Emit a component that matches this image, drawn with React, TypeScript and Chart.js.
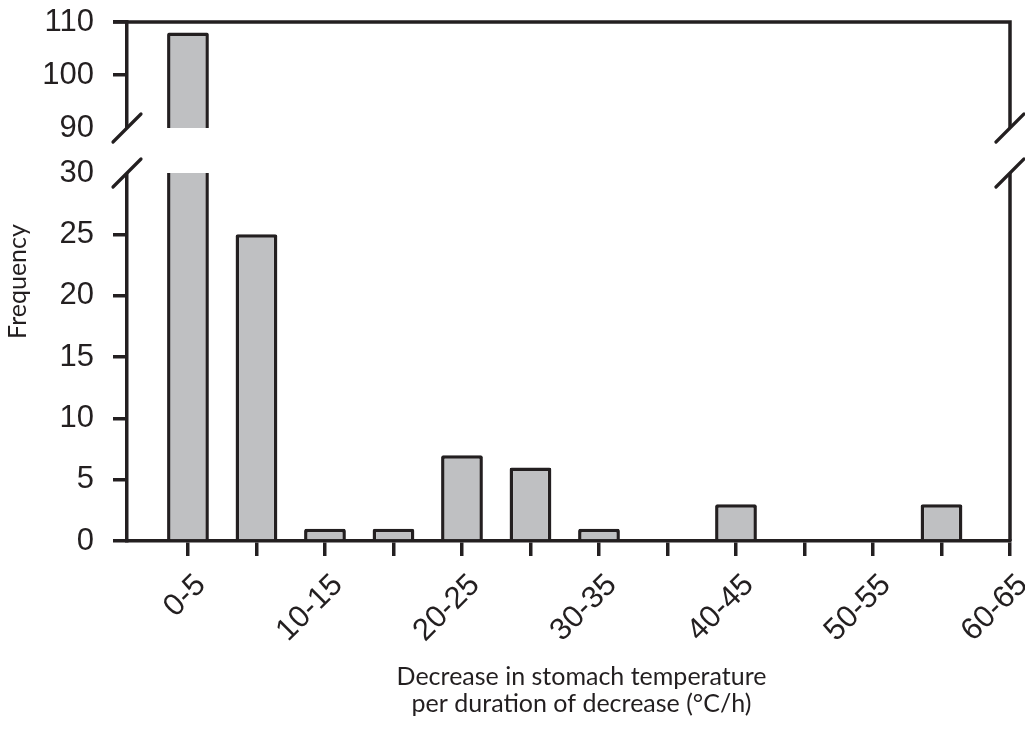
import React, { useEffect, useRef } from 'react';
import { Chart, registerables, LinearScale } from 'chart.js';

const categories = ['0-5', '5-10', '10-15', '15-20', '20-25', '25-30', '30-35', '35-40', '40-45', '45-50', '50-55', '55-60', '60-65'];
const frequency = [108, 25, 1, 1, 7, 6, 1, 0, 3, 0, 0, 3, 0];
const yTickValues = [0, 5, 10, 15, 20, 25, 30, 90, 100, 110];
const lowerRange = [0, 30];
const upperRange = [90, 110];
const xTitleLines = ['Decrease in stomach temperature', 'per duration of decrease (°C/h)'];
const yTitle = 'Frequency';

// fraction of the axis height used by the lower segment, and where the upper one starts
const LOWER_FRAC = 368 / 519;
const UPPER_START = 413 / 519;

const INK = '#231f20';
const BAR_FILL = '#bfc0c2';
const TITLE_FONT = 'Lato, "Open Sans", sans-serif';
const TICK_FONT = '"Liberation Sans", Arial, sans-serif';

class BrokenLinearScale extends LinearScale {
  static id = 'brokenLinear';
  static defaults = LinearScale.defaults;

  valueToDecimal(v: number) {
    const [l0, l1] = lowerRange;
    const [u0, u1] = upperRange;
    if (v <= l1) return ((v - l0) / (l1 - l0)) * LOWER_FRAC;
    if (v >= u0) return UPPER_START + ((v - u0) / (u1 - u0)) * (1 - UPPER_START);
    return LOWER_FRAC + ((v - l1) / (u0 - l1)) * (UPPER_START - LOWER_FRAC);
  }

  getPixelForValue(value: any) {
    if (value === null || value === undefined || isNaN(value)) return NaN;
    return (this as any).getPixelForDecimal(this.valueToDecimal(+value));
  }

  getValueForPixel(pixel: number) {
    const d = (this as any).getDecimalForPixel(pixel);
    const [l0, l1] = lowerRange;
    const [u0, u1] = upperRange;
    if (d <= LOWER_FRAC) return l0 + (d / LOWER_FRAC) * (l1 - l0);
    if (d >= UPPER_START) return u0 + ((d - UPPER_START) / (1 - UPPER_START)) * (u1 - u0);
    return l1 + ((d - LOWER_FRAC) / (UPPER_START - LOWER_FRAC)) * (u0 - l1);
  }
}

Chart.register(...registerables, BrokenLinearScale as any);

const framePlugin = {
  id: 'brokenFrame',
  afterDraw(chart: any) {
    const { ctx, chartArea } = chart;
    const { left, right, top, bottom } = chartArea;
    const y = chart.scales.y;
    const pLow = y.getPixelForValue(lowerRange[1]);
    const pHigh = y.getPixelForValue(upperRange[0]);
    ctx.save();
    ctx.strokeStyle = INK;
    ctx.lineWidth = 3.5;
    ctx.lineJoin = 'miter';
    ctx.lineCap = 'butt';
    // top frame + right frame
    ctx.beginPath();
    ctx.moveTo(left - 14, top);
    ctx.lineTo(right, top);
    ctx.lineTo(right, bottom);
    ctx.stroke();
    // gap band
    ctx.fillStyle = '#ffffff';
    ctx.fillRect(left - 8, pHigh, right - left + 16, pLow - pHigh);
    // break slashes
    ctx.lineCap = 'round';
    ctx.lineWidth = 3.2;
    for (const x of [left, right]) {
      for (const yy of [pHigh, pLow]) {
        ctx.beginPath();
        ctx.moveTo(x - 14, yy + 14);
        ctx.lineTo(x + 14, yy - 14);
        ctx.stroke();
      }
    }
    // x axis title (two lines)
    ctx.fillStyle = INK;
    ctx.font = `25px ${TITLE_FONT}`;
    ctx.textAlign = 'center';
    ctx.textBaseline = 'alphabetic';
    const cx = (left + right) / 2 + 13;
    xTitleLines.forEach((line, i) => {
      ctx.fillText(line, cx, bottom + 144 + i * 27);
    });
    ctx.restore();
  },
};

export default function App() {
  const canvasRef = useRef<HTMLCanvasElement | null>(null);

  useEffect(() => {
    if (!canvasRef.current) return;
    const chart = new Chart(canvasRef.current, {
      type: 'bar',
      data: {
        datasets: [
          {
            data: frequency.map((v, i) => ({ x: i, y: v })),
            backgroundColor: BAR_FILL,
            borderColor: INK,
            borderWidth: 3.5,
            borderSkipped: 'start',
            borderRadius: 2,
            categoryPercentage: 1,
            barPercentage: 0.61,
          } as any,
        ],
      },
      options: {
        animation: false,
        responsive: true,
        maintainAspectRatio: false,
        layout: { padding: { top: 22, right: 15, left: 0, bottom: 0 } },
        plugins: { legend: { display: false }, tooltip: { enabled: false } },
        scales: {
          x: {
            type: 'linear',
            min: -0.89,
            max: 12,
            offset: false,
            afterBuildTicks: (s: any) => {
              s.ticks = categories.map((_, i) => ({ value: i }));
            },
            afterFit: (s: any) => {
              s.height = 189;
              s.paddingLeft = 0;
              s.paddingRight = 0;
            },
            grid: {
              offset: false,
              drawOnChartArea: false,
              drawTicks: true,
              tickLength: 15,
              color: INK,
              lineWidth: 3.5,
            },
            border: { display: true, color: INK, width: 3.5 },
            ticks: {
              autoSkip: false,
              minRotation: 45,
              maxRotation: 45,
              padding: 11,
              labelOffset: 13,
              color: INK,
              font: { family: TICK_FONT, size: 31 },
              callback: (value: any) => {
                const i = Math.round(Number(value));
                return i % 2 === 0 ? categories[i] : '';
              },
            },
            title: { display: false },
          },
          y: {
            type: 'brokenLinear' as any,
            position: 'left',
            min: 0,
            max: 110,
            afterBuildTicks: (s: any) => {
              s.ticks = yTickValues.map((v) => ({ value: v }));
            },
            afterFit: (s: any) => {
              s.width = 127;
              s.paddingTop = 0;
              s.paddingBottom = 0;
            },
            grid: {
              drawOnChartArea: false,
              drawTicks: true,
              tickLength: 14,
              lineWidth: 3.5,
              color: (ctx: any) =>
                ctx.tick && (ctx.tick.value === lowerRange[1] || ctx.tick.value === upperRange[0])
                  ? 'rgba(0,0,0,0)'
                  : INK,
            },
            border: { display: true, color: INK, width: 3.5 },
            ticks: {
              autoSkip: false,
              padding: 19,
              color: INK,
              font: { family: TICK_FONT, size: 31 },
            },
            title: {
              display: true,
              text: yTitle,
              color: INK,
              font: { family: TITLE_FONT, size: 25, lineHeight: 1.2 },
              padding: { top: 3, bottom: 0 },
            },
          } as any,
        },
      },
      plugins: [framePlugin],
    });
    return () => chart.destroy();
  }, []);

  return (
    <div style={{ position: 'fixed', left: 0, top: 0, width: 1025, height: 730, background: '#fff' }}>
      <canvas ref={canvasRef} />
    </div>
  );
}
